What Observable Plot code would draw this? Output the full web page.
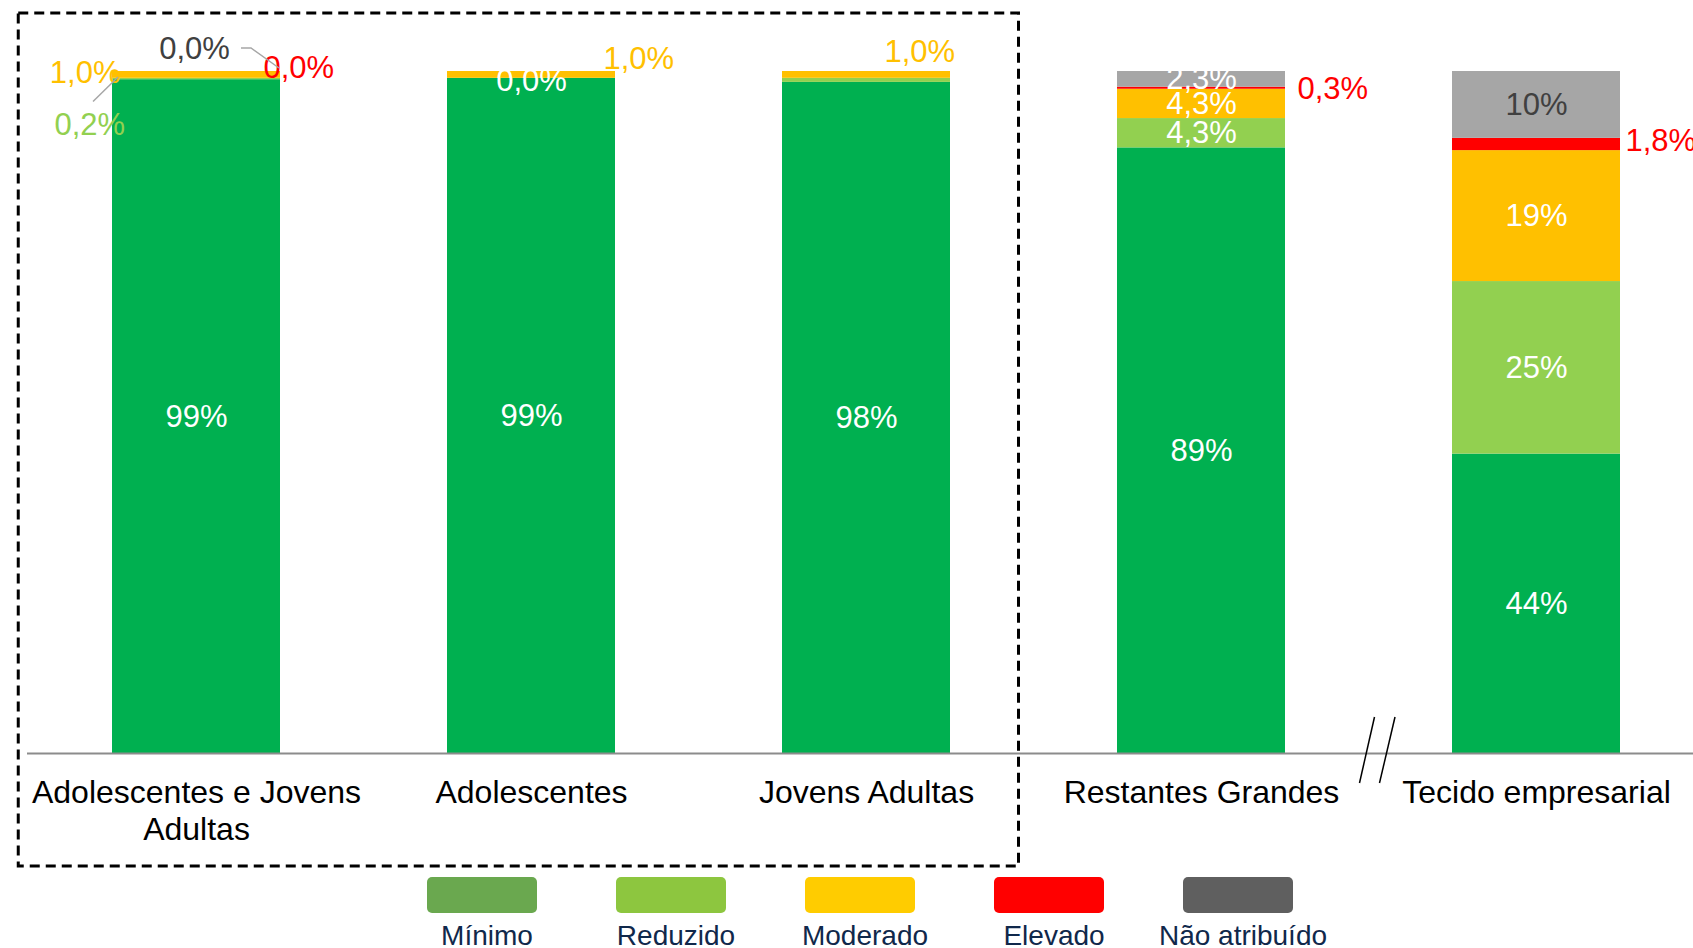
<!DOCTYPE html>
<html>
<head>
<meta charset="utf-8">
<script src="https://cdn.jsdelivr.net/npm/d3@7"></script>
<script src="https://cdn.jsdelivr.net/npm/@observablehq/plot@0.6"></script>
<style>
  html, body { margin: 0; padding: 0; background: #fff; }
  #chart svg { display: block; }
</style>
</head>
<body>
<div id="chart"></div>
<script>
// ---------- data ----------
const categories = ["Adolescentes e Jovens Adultas", "Adolescentes", "Jovens Adultas", "Restantes Grandes", "Tecido empresarial"];
const tickLabels = ["Adolescentes e Jovens\nAdultas", "Adolescentes", "Jovens Adultas", "Restantes Grandes", "Tecido empresarial"];
const seriesNames = ["Mínimo", "Reduzido", "Moderado", "Elevado", "Não atribuído"];
const minimo       = [98.8, 99.0, 98.4, 88.8, 43.9];
const reduzido     = [0.2, 0.0, 0.6, 4.3, 25.3];
const moderado     = [1.0, 1.0, 1.0, 4.3, 19.2];
const elevado      = [0.0, 0.0, 0.0, 0.3, 1.8];
const naoAtribuido = [0.0, 0.0, 0.0, 2.3, 9.8];
const barColors    = ["#00B050", "#92D050", "#FFC000", "#FF0000", "#A6A6A6"];
const labelColors  = ["#FFFFFF", "#92D050", "#FFC000", "#FF0000", "#404040"];
const legendColors = ["#6AA84F", "#8DC63F", "#FFCC00", "#FF0000", "#5F5F5F"];

// ---------- layout of labels placed outside segments ----------
const outsidePlacements = [
  {cat: 0, series: "Moderado", anchor: "end", dx: -76, dy: -2},
  {cat: 0, series: "Reduzido", anchor: "start", dx: -142, dy: 46},
  {cat: 0, series: "Não atribuído", anchor: "middle", dx: -2, dy: -22},
  {cat: 0, series: "Elevado", anchor: "start", dx: 67, dy: -3},
  {cat: 1, series: "Reduzido", anchor: "middle", dx: 0, dy: 3, fill: "#FFFFFF"},
  {cat: 1, series: "Moderado", anchor: "start", dx: 72, dy: -16},
  {cat: 2, series: "Moderado", anchor: "start", dx: 18, dy: -23},
  {cat: 3, series: "Elevado", anchor: "start", dx: 96, dy: 1},
  {cat: 4, series: "Elevado", anchor: "start", dx: 89, dy: -3}
];

const fmt = v => v >= 9.5 ? Math.round(v) + "%" : v.toFixed(1).replace(".", ",") + "%";
const valuesBySeries = [minimo, reduzido, moderado, elevado, naoAtribuido];
const rows = [];
categories.forEach((c, i) => {
  let acc = 0;
  seriesNames.forEach((s, j) => {
    const v = valuesBySeries[j][i];
    rows.push({category: c, series: s, value: v, y1: acc, y2: acc + v, mid: acc + v / 2, label: fmt(v)});
    acc += v;
  });
});
const rowOf = (ci, s) => rows.find(r => r.category === categories[ci] && r.series === s);

const FONT = "'Liberation Sans', Arial, Helvetica, sans-serif";
const W = 1693, H = 870;

const insideRows = rows.filter(r => r.value >= 2);
const insideDark = insideRows.filter(r => r.series === "Não atribuído" && r.category === "Tecido empresarial");
const insideLight = insideRows.filter(r => !insideDark.includes(r));

const outsideMarks = outsidePlacements.map(p => {
  const r = rowOf(p.cat, p.series);
  return Plot.text([r], {
    x: "category", y: "mid", text: "label",
    textAnchor: p.anchor, dx: p.dx, dy: p.dy,
    fill: p.fill || labelColors[seriesNames.indexOf(p.series)],
    fontSize: 31
  });
});

const chart = Plot.plot({
  width: W,
  height: H,
  marginLeft: 27,
  marginRight: 0,
  marginTop: 71,
  marginBottom: 117,
  style: {fontFamily: FONT, background: "#fff", overflow: "hidden"},
  x: {domain: categories, range: [27, 1704], paddingInner: 0.5, paddingOuter: 0.25, axis: null},
  y: {domain: [0, 100], axis: null},
  color: {domain: seriesNames, range: barColors},
  marks: [
    Plot.barY(rows.filter(r => r.value > 0), {x: "category", y1: "y1", y2: "y2", fill: "series"}),
    Plot.ruleY([0], {stroke: "#8C8C8C", strokeWidth: 2}),
    Plot.text(insideLight, {x: "category", y: "mid", text: "label", fill: "#FFFFFF", fontSize: 31}),
    Plot.text(insideDark, {x: "category", y: "mid", text: "label", fill: "#404040", fontSize: 31}),
    ...outsideMarks,
    Plot.text(categories, {
      x: d => d, y: () => 0,
      text: d => tickLabels[categories.indexOf(d)],
      lineAnchor: "top", dy: 23, fontSize: 32, lineHeight: 1.16, fill: "#000"
    })
  ]
});

document.getElementById("chart").appendChild(chart);

// ---------- decorations derived from the scales ----------
const xs = chart.scale("x"), ys = chart.scale("y");
const svg = d3.select(chart);
const bw = xs.bandwidth, step = xs.step;
const cx = i => xs.apply(categories[i]) + bw / 2;

// leader lines
const lead = (pts) => svg.append("polyline")
  .attr("points", pts.map(p => p.join(",")).join(" "))
  .attr("fill", "none").attr("stroke", "#A6A6A6").attr("stroke-width", 1.5);
{
  const r = rowOf(0, "Reduzido");
  const x0 = cx(0), y0 = ys.apply(r.mid);
  lead([[x0 - 103, y0 + 23], [x0 - 78, y0 - 1.5]]);
  const n = rowOf(0, "Não atribuído");
  const y1 = ys.apply(n.mid);
  lead([[x0 + 45, y1 - 23], [x0 + 55, y1 - 23], [x0 + 83, y1 - 3]]);
}

// dashed box around the first three categories
{
  const left = xs.apply(categories[0]) - step * 0.25 - 10;
  const right = xs.apply(categories[2]) + bw + (step - bw) / 2 - 15;
  const top = ys.apply(100) - 58;
  const bottom = ys.apply(0) + 113;
  svg.append("rect")
    .attr("x", left).attr("y", top)
    .attr("width", right - left).attr("height", bottom - top)
    .attr("fill", "none").attr("stroke", "#000")
    .attr("stroke-width", 3).attr("stroke-dasharray", "10,6");
}

// axis break marks between last two categories
{
  const bx = xs.apply(categories[4]) - (step - bw) / 2;
  const by = ys.apply(0);
  [[6, -9], [26.5, 11]].forEach(([t, b]) => {
    svg.append("line")
      .attr("x1", bx + t).attr("y1", by - 36)
      .attr("x2", bx + b).attr("y2", by + 30)
      .attr("stroke", "#000").attr("stroke-width", 1.5);
  });
}

// ---------- legend below the chart ----------
const legend = d3.select("#chart").append("svg")
  .attr("width", W).attr("height", 948 - H)
  .style("display", "block");
seriesNames.forEach((s, i) => {
  const x0 = 427 + i * 189;
  legend.append("rect")
    .attr("x", x0).attr("y", 7).attr("width", 110).attr("height", 36)
    .attr("rx", 5).attr("fill", legendColors[i]);
  legend.append("text")
    .attr("x", x0 + 60).attr("y", 75)
    .attr("text-anchor", "middle")
    .attr("font-family", FONT)
    .attr("font-size", 28)
    .attr("fill", "#10284B")
    .text(s);
});
</script>
</body>
</html>
